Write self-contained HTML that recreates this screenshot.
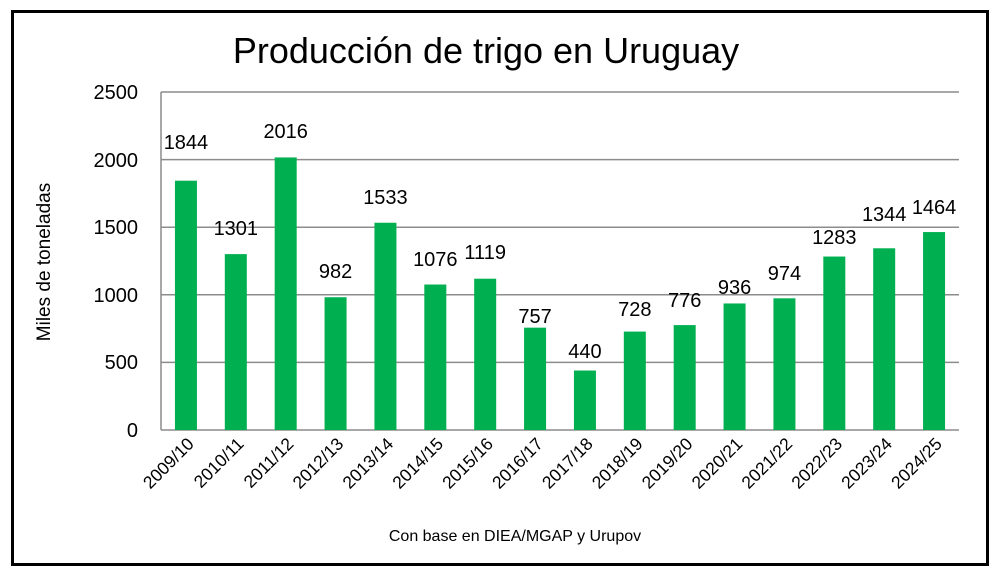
<!DOCTYPE html>
<html><head><meta charset="utf-8"><style>
body{margin:0;background:#fff;}
svg{display:block;font-family:"Liberation Sans",sans-serif;}
</style></head><body>
<svg width="1000" height="578" viewBox="0 0 1000 578">
<rect x="0" y="0" width="1000" height="578" fill="#fff"/>
<rect x="12.5" y="11.5" width="975" height="553" fill="none" stroke="#000" stroke-width="3"/>
<text x="486" y="63" font-size="36" text-anchor="middle" fill="#000">Producción de trigo en Uruguay</text>
<g stroke="#8c8c8c" stroke-width="1.5">
<line x1="161" y1="92" x2="959" y2="92"/>
<line x1="161" y1="159.6" x2="959" y2="159.6"/>
<line x1="161" y1="227.2" x2="959" y2="227.2"/>
<line x1="161" y1="294.8" x2="959" y2="294.8"/>
<line x1="161" y1="362.4" x2="959" y2="362.4"/>
<line x1="161" y1="430" x2="959" y2="430"/>
<line x1="161" y1="92" x2="161" y2="430"/>
</g>
<g font-size="20" text-anchor="end" fill="#000">
<text x="138" y="99">2500</text><text x="138" y="167">2000</text><text x="138" y="234">1500</text>
<text x="138" y="302">1000</text><text x="138" y="369">500</text><text x="138" y="437">0</text>
</g>
<text transform="translate(50,262) rotate(-90)" font-size="19" text-anchor="middle">Miles de toneladas</text>
<g id="bars" fill="#00b050"></g>
<g id="labels" font-size="20" text-anchor="middle" fill="#000"></g>
<g id="xl" font-size="17.5" text-anchor="end" fill="#000"></g>
<text x="515" y="541" font-size="16" text-anchor="middle">Con base en DIEA/MGAP y Urupov</text>
<script>
var v=[1844,1301,2016,982,1533,1076,1119,757,440,728,776,936,974,1283,1344,1464];
var ly=[142,228,131,271,197,259,252,316,351,309,300,287,273,237,214,207];
var n=["2009/10","2010/11","2011/12","2012/13","2013/14","2014/15","2015/16","2016/17","2017/18","2018/19","2019/20","2020/21","2021/22","2022/23","2023/24","2024/25"];
var ns="http://www.w3.org/2000/svg",b=document.getElementById("bars"),l=document.getElementById("labels"),x=document.getElementById("xl");
for(var i=0;i<16;i++){var c=161+49.875*(i+0.5);var h=v[i]*338/2500;
var r=document.createElementNS(ns,"rect");r.setAttribute("x",c-11);r.setAttribute("width",22);r.setAttribute("y",430-h);r.setAttribute("height",h);b.appendChild(r);
var t=document.createElementNS(ns,"text");t.setAttribute("x",c);t.setAttribute("y",ly[i]+7);t.textContent=v[i];l.appendChild(t);
var s=document.createElementNS(ns,"text");s.setAttribute("transform","translate("+(c+9)+",445) rotate(-45)");s.textContent=n[i];x.appendChild(s);}
</script>
</svg>
</body></html>
